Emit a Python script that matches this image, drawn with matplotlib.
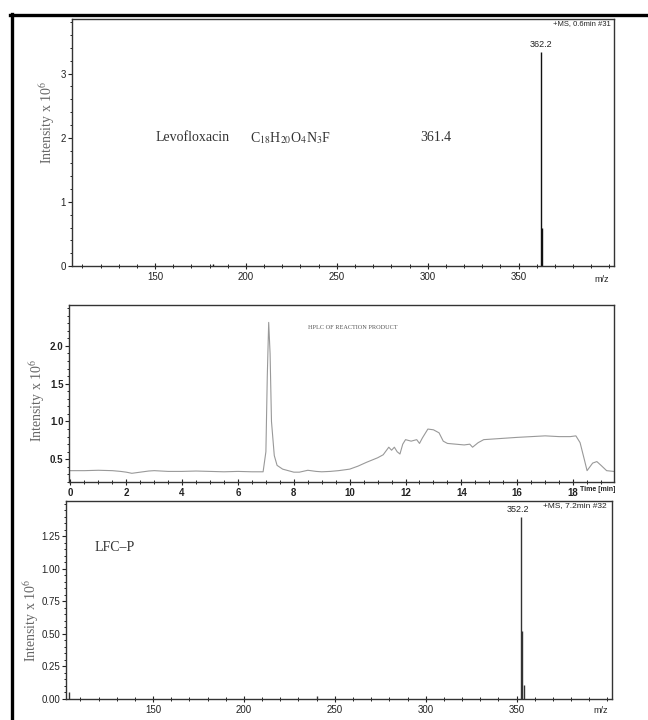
import matplotlib
matplotlib.use("Agg")
import matplotlib.pyplot as plt
from matplotlib.ticker import MultipleLocator
from matplotlib.lines import Line2D

plt.rcParams['font.family'] = ['Liberation Sans', 'DejaVu Sans']
plt.rcParams['mathtext.fontset'] = 'stix'

# ---- Data ----
# Panel 1: MS spectrum of levofloxacin
ms1_mz = [182.0, 362.2, 362.8]
ms1_int = [0.03, 3.34, 0.60]

# Panel 2: HPLC chromatogram of reaction product
hplc_time = [0.0, 0.5, 1.0, 1.5, 1.8, 2.0, 2.2, 2.5, 2.8, 3.0, 3.5, 4.0, 4.5, 5.0, 5.5, 6.0,
             6.5, 6.9, 7.0, 7.05, 7.1, 7.15, 7.2, 7.3, 7.4, 7.6, 7.8, 8.0, 8.2, 8.5, 8.8,
             9.0, 9.3, 9.6, 10.0, 10.3, 10.6, 11.0, 11.2, 11.4, 11.5, 11.6, 11.7, 11.8,
             11.9, 12.0, 12.2, 12.4, 12.5, 12.6, 12.8, 13.0, 13.2, 13.35, 13.5, 13.8,
             14.1, 14.3, 14.4, 14.6, 14.8, 15.2, 15.6, 16.0, 16.5, 17.0, 17.5, 17.9,
             18.1, 18.25, 18.4, 18.5, 18.7, 18.85, 19.0, 19.2, 19.45]
hplc_int = [0.35, 0.35, 0.355, 0.35, 0.34, 0.33, 0.315, 0.33, 0.345, 0.35, 0.34, 0.34, 0.345,
            0.34, 0.335, 0.34, 0.335, 0.335, 0.6, 1.6, 2.31, 1.9, 1.0, 0.55, 0.42, 0.37,
            0.35, 0.33, 0.33, 0.355, 0.34, 0.335, 0.34, 0.35, 0.37, 0.41, 0.46, 0.52, 0.56,
            0.66, 0.62, 0.66, 0.60, 0.57, 0.70, 0.76, 0.74, 0.76, 0.71, 0.78, 0.90, 0.89,
            0.85, 0.74, 0.71, 0.70, 0.69, 0.70, 0.66, 0.72, 0.76, 0.77, 0.78, 0.79, 0.80,
            0.81, 0.80, 0.80, 0.81, 0.72, 0.50, 0.35, 0.45, 0.47, 0.42, 0.35, 0.34]

# Panel 3: MS spectrum of LFC-P
ms3_mz = [104.0, 240.0, 352.2, 353.2, 354.2]
ms3_int = [0.05, 0.02, 1.40, 0.52, 0.11]

ms1_xticks = [150, 200, 250, 300, 350]
ms1_yticks = [0, 1, 2, 3]
hplc_xticks = [0, 2, 4, 6, 8, 10, 12, 14, 16, 18]
hplc_yticks = [0.5, 1.0, 1.5, 2.0]
ms3_yticks = [0.00, 0.25, 0.50, 0.75, 1.00, 1.25]

W, H = 648, 720
fig = plt.figure(figsize=(6.48, 7.2), dpi=100)

def ax_px(l, r, t, b):
    return fig.add_axes([l / W, 1 - b / H, (r - l) / W, (b - t) / H])

serif = ['Liberation Serif', 'DejaVu Serif']
ylab = dict(fontsize=10, family=serif, color='#666666')
tickfont = 7
spine_c = '#333333'

def style(ax):
    for s in ax.spines.values():
        s.set_color(spine_c)
        s.set_linewidth(1.0)
    ax.tick_params(axis='y', which='major', direction='out', length=3, width=0.8,
                   labelsize=tickfont, pad=1, colors='#222222')
    ax.tick_params(axis='y', which='minor', direction='out', length=1.5, width=0.6)
    ax.tick_params(axis='x', which='major', direction='inout', length=4, width=0.8,
                   labelsize=tickfont, pad=2, colors='#222222')
    ax.tick_params(axis='x', which='minor', direction='inout', length=2.5, width=0.6)

def place_ylabel(ax, xpx, ypx):
    ax.set_ylabel('Intensity x 10$^{6}$', **ylab)
    ax.yaxis.set_label_coords(xpx / W, 1 - ypx / H, transform=fig.transFigure)

# ---- Panel 1 ----
ax1 = ax_px(71.5, 613.6, 19, 266)
ax1.vlines(ms1_mz, 0, ms1_int, color='#111111', lw=1.0)
ax1.set_xlim(104, 402.3)
ax1.set_ylim(0, 3.85)
ax1.set_xticks(ms1_xticks)
ax1.set_yticks(ms1_yticks)
ax1.xaxis.set_minor_locator(MultipleLocator(10))
ax1.yaxis.set_minor_locator(MultipleLocator(0.2))
style(ax1)
place_ylabel(ax1, 57, 122)
ax1.text(396, -0.14, 'm/z', fontsize=6.5, ha='center', va='top', color='#222222')
ax1.text(0.995, 0.995, '+MS, 0.6min #31', transform=ax1.transAxes, fontsize=5.5,
         ha='right', va='top', color='#222222')
ax1.text(362.2, 3.38, '362.2', fontsize=6.5, ha='center', va='bottom', color='#222222')
ax1.text(150, 2.0, 'Levofloxacin', fontsize=10, family=serif, va='center', color='#333333')
ax1.text(202, 2.0, r'C$_{18}$H$_{20}$O$_{4}$N$_{3}$F', fontsize=10, family=serif,
         va='center', color='#333333')
ax1.text(296, 2.0, '361.4', fontsize=10, family=serif, va='center', color='#333333')

# ---- Panel 2 ----
ax2 = ax_px(69, 613.6, 305, 482)
ax2.plot(hplc_time, hplc_int, color='#999999', lw=0.8)
ax2.set_xlim(-0.05, 19.45)
ax2.set_ylim(0.2, 2.54)
ax2.set_xticks(hplc_xticks)
ax2.set_yticks(hplc_yticks)
ax2.xaxis.set_minor_locator(MultipleLocator(0.5))
ax2.yaxis.set_minor_locator(MultipleLocator(0.1))
style(ax2)
for lab in ax2.get_xticklabels() + ax2.get_yticklabels():
    lab.set_fontweight('bold')
place_ylabel(ax2, 47, 400)
ax2.text(1.003, -0.025, 'Time [min]', transform=ax2.transAxes, fontsize=5,
         fontweight='bold', ha='right', va='top', color='#222222')
ax2.text(10.1, 2.24, 'HPLC OF REACTION PRODUCT', fontsize=4.5, family=serif,
         ha='center', va='center', color='#555555')

# ---- Panel 3 ----
ax3 = ax_px(66, 612, 501, 699)
ax3.vlines(ms3_mz, 0, ms3_int, color='#333333', lw=1.0)
ax3.set_xlim(102.1, 402.5)
ax3.set_ylim(0, 1.52)
ax3.set_xticks(ms1_xticks)
ax3.set_yticks(ms3_yticks)
ax3.xaxis.set_minor_locator(MultipleLocator(10))
ax3.yaxis.set_minor_locator(MultipleLocator(0.05))
style(ax3)
place_ylabel(ax3, 41, 620)
ax3.text(396, -0.055, 'm/z', fontsize=6.5, ha='center', va='top', color='#222222')
ax3.text(0.99, 0.995, '+MS, 7.2min #32', transform=ax3.transAxes, fontsize=6,
         ha='right', va='top', color='#222222')
ax3.text(351.0, 1.42, '352.2', fontsize=6.5, ha='center', va='bottom', color='#222222')
ax3.text(118, 1.16, 'LFC\u2013P', fontsize=10, family=serif, va='center', color='#333333')

# ---- Frame lines ----
fig.add_artist(Line2D([10 / W, 1.0], [1 - 15 / H, 1 - 15 / H], color='black', lw=2.4,
                      transform=fig.transFigure))
fig.add_artist(Line2D([12 / W, 12 / W], [0.0, 1 - 14 / H], color='black', lw=2.4,
                      transform=fig.transFigure))

fig.savefig('out.png', dpi=100)
